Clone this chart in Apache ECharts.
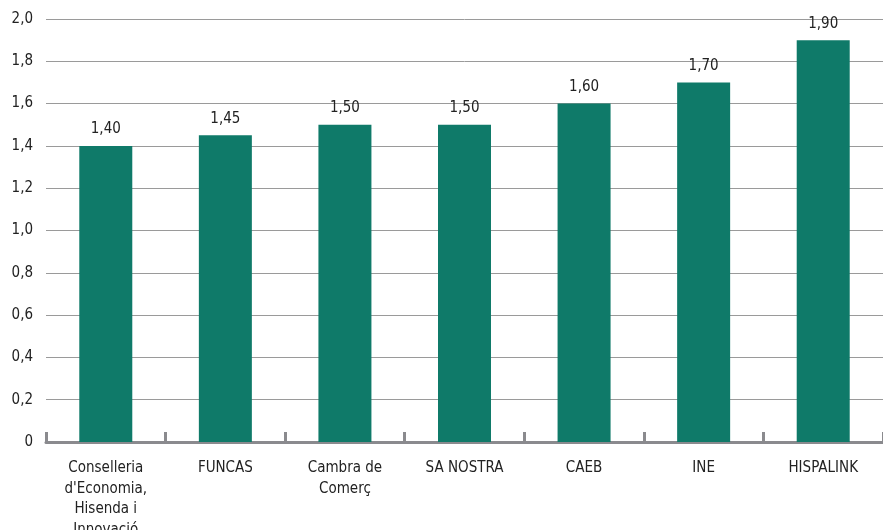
<!DOCTYPE html>
<html>
<head>
<meta charset="utf-8">
<script src="https://cdn.jsdelivr.net/npm/echarts@6/dist/echarts.min.js"></script>
<style>html,body{margin:0;padding:0;background:#fff}#c{width:883px;height:530px}</style>
</head>
<body>
<div id="c"></div>
<script>
const categories = ["Conselleria\nd'Economia,\nHisenda i\nInnovació", "FUNCAS", "Cambra de\nComerç", "SA NOSTRA", "CAEB", "INE", "HISPALINK"];
const values = [1.40, 1.45, 1.50, 1.50, 1.60, 1.70, 1.90];
const yMin = 0, yMax = 2.0, yInterval = 0.2;

const font = "'DejaVu Sans Condensed', 'Liberation Sans Narrow', sans-serif";
const chart = echarts.init(document.getElementById('c'));
chart.setOption({
  animation: false,
  grid: { left: 46, right: 0, top: 19, bottom: 88, containLabel: false, outerBoundsMode: 'none' },
  xAxis: {
    type: 'category',
    data: categories,
    axisLine: { lineStyle: { color: '#8a8a8e', width: 3 } },
    axisTick: { show: true, inside: true, length: 10, lineStyle: { color: '#8a8a8e', width: 3 } },
    axisLabel: { color: '#222', fontSize: 15, fontFamily: font, margin: 16, lineHeight: 20.5, interval: 0 }
  },
  yAxis: {
    type: 'value',
    min: yMin, max: yMax, interval: yInterval,
    axisLine: { show: false },
    axisTick: { show: false },
    splitLine: { lineStyle: { color: '#9a9a9a', width: 1 } },
    axisLabel: {
      color: '#222', fontSize: 15, fontFamily: font, margin: 13,
      formatter: v => v === 0 ? '0' : v.toFixed(1).replace('.', ',')
    }
  },
  series: [{
    type: 'bar',
    data: values,
    barWidth: 53,
    itemStyle: { color: '#0f7a69' },
    label: {
      show: true, position: 'top', distance: 9,
      color: '#222', fontSize: 15, fontFamily: font,
      formatter: p => p.value.toFixed(2).replace('.', ',')
    }
  }]
});
</script>
</body>
</html>
